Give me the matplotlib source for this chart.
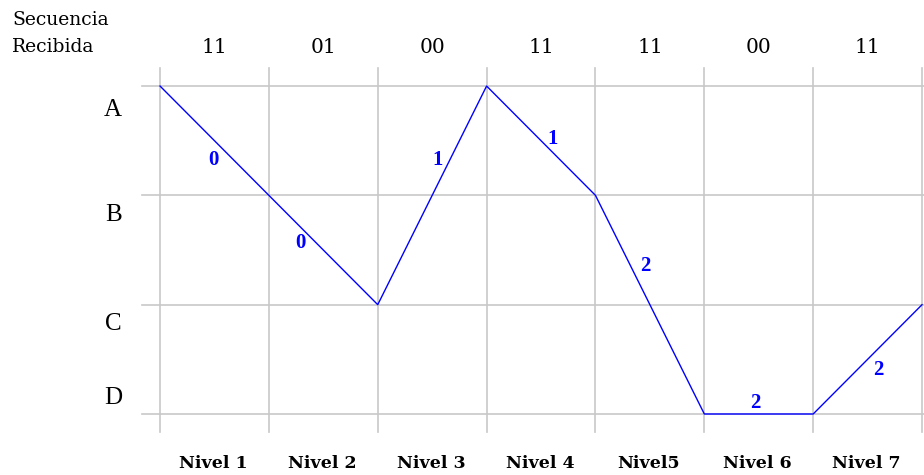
import numpy as np
import matplotlib
matplotlib.use("Agg")
import matplotlib.pyplot as plt

# trellis data
states = ["A", "B", "C", "D"]
received = ["11", "01", "00", "11", "11", "00", "11"]
levels = ["Nivel 1", "Nivel 2", "Nivel 3", "Nivel 4", "Nivel5", "Nivel 6", "Nivel 7"]
path_states = [0, 1, 2, 0, 1, 3, 3, 2]   # A B C A B D D C
branch_metrics = ["0", "0", "1", "1", "2", "2", "2"]
# where each branch metric sits (data units: step, state)
metric_pos = [(0.49, 0.68), (1.29, 1.44), (2.55, 0.68), (3.61, 0.48),
              (4.46, 1.65), (5.47, 2.90), (6.60, 2.60)]

GRID = "#c8c8c8"
BLUE = "#0000ff"
SERIF = "Liberation Serif"
WIDE_SERIF = "DejaVu Serif"

fig = plt.figure(figsize=(9.24, 4.75), dpi=100)
ax = fig.add_axes([0, 0, 1, 1])
ax.set_xlim(-1.47, 7.018)
ax.set_ylim(3.558, -0.787)
ax.axis("off")

n_steps = len(received)
steps = np.arange(n_steps + 1)

# grid
for x in steps:
    ax.plot([x, x], [-0.165, 3.165], color=GRID, lw=1.2, zorder=1)
for y in range(len(states)):
    ax.plot([-0.165, 7.02], [y, y], color=GRID, lw=1.2, zorder=1)

# survivor path
ax.plot(steps, path_states, color=BLUE, lw=1.0, zorder=2)

for (x, y), m in zip(metric_pos, branch_metrics):
    ax.text(x, y, m, color=BLUE, fontsize=15, fontweight="bold", family=SERIF,
            ha="center", va="center", zorder=3)

# state labels
state_label_y = [0.22, 1.18, 2.18, 2.85]
for s, y in zip(states, state_label_y):
    ax.text(-0.43, y, s, fontsize=18, family=SERIF, ha="center", va="center")

# received sequence
ax.text(-1.36, -0.60, "Secuencia", fontsize=13.5, family=WIDE_SERIF, ha="left", va="center")
ax.text(-1.36, -0.357, "Recibida", fontsize=13.5, family=WIDE_SERIF, ha="left", va="center")
for i, r in enumerate(received):
    ax.text(i + 0.5, -0.357, r, fontsize=14.5, family=WIDE_SERIF, ha="center", va="center")

# level labels
for i, lv in enumerate(levels):
    ax.text(i + 0.49, 3.457, lv, fontsize=12.5, fontweight="bold", family=WIDE_SERIF,
            ha="center", va="center")

fig.savefig("out.png", dpi=100)
